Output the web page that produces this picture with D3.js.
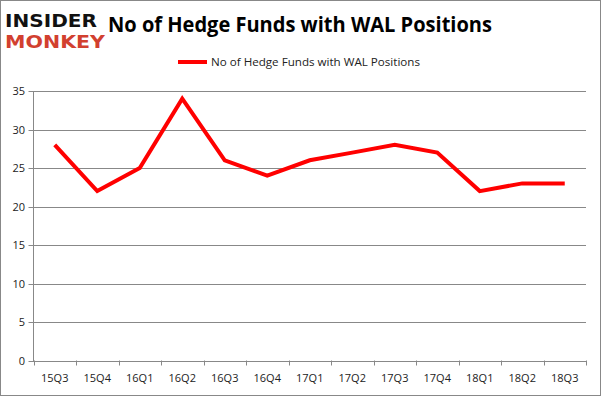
<!DOCTYPE html>
<html><head><meta charset="utf-8">
<script src="https://cdn.jsdelivr.net/npm/d3@7"></script>
<style>body{margin:0;background:#fff}svg{display:block}</style>
</head><body>
<script>
const categories = ["15Q3","15Q4","16Q1","16Q2","16Q3","16Q4","17Q1","17Q2","17Q3","17Q4","18Q1","18Q2","18Q3"];
const values = [28,22,25,34,26,24,26,27,28,27,22,23,23];
const yTicks = [0,5,10,15,20,25,30,35];
const seriesName = "No of Hedge Funds with WAL Positions";
const titleText = "No of Hedge Funds with WAL Positions";

(function(){
const W = 601, H = 396;
const svg = d3.select("body").append("svg").attr("width", W).attr("height", H);
svg.append("rect").attr("x",0.5).attr("y",0.5).attr("width",W-1).attr("height",H-1)
  .attr("fill","#fff").attr("stroke","#888").attr("stroke-width",1);

const pl = 33.5, pr = 586, pt = 91, pb = 360.5;
const x = d3.scaleBand().domain(categories).range([pl, pr]);
const y = d3.scaleLinear().domain([0,35]).range([pb, pt]);

svg.append("g").selectAll("line").data(yTicks).join("line")
  .attr("x1", pl-5).attr("x2", pr).attr("y1", d=>Math.round(y(d))+0.5).attr("y2", d=>Math.round(y(d))+0.5)
  .attr("stroke","#888").attr("stroke-width",1);

svg.append("line").attr("x1",pl).attr("x2",pl).attr("y1",pt).attr("y2",pb+0.5)
  .attr("stroke","#888");
svg.append("g").selectAll("text").data(yTicks).join("text")
  .attr("x", 25).attr("y", d=>y(d)+4).attr("text-anchor","end")
  .attr("font-family","'Open Sans', sans-serif").attr("font-size",11).attr("fill","#222")
  .text(d=>d);

const xt = categories.map(c=>x(c)).concat([pr]);
svg.append("g").selectAll("line").data(xt).join("line")
  .attr("x1", d=>Math.round(d)+0.5).attr("x2", d=>Math.round(d)+0.5)
  .attr("y1", pb).attr("y2", pb+5).attr("stroke","#888");
svg.append("g").selectAll("text").data(categories).join("text")
  .attr("x", d=>x(d)+x.bandwidth()/2).attr("y", 382).attr("text-anchor","middle")
  .attr("font-family","'Open Sans', sans-serif").attr("font-size",11).attr("fill","#222")
  .text(d=>d);

const line = d3.line().x((d,i)=>x(categories[i])+x.bandwidth()/2).y(d=>y(d));
svg.append("path").datum(values).attr("d", line).attr("fill","none")
  .attr("stroke","#ff0000").attr("stroke-width",4).attr("stroke-linejoin","miter");

svg.append("text").attr("x", 300).attr("y", 32).attr("text-anchor","middle")
  .attr("font-family","'Open Sans', sans-serif").attr("font-weight","bold").attr("font-size",21)
  .attr("textLength",384).attr("lengthAdjust","spacingAndGlyphs")
  .attr("fill","#000").text(titleText);

svg.append("line").attr("x1",178).attr("x2",207).attr("y1",62).attr("y2",62)
  .attr("stroke","#ff0000").attr("stroke-width",4);
svg.append("text").attr("x",211).attr("y",66)
  .attr("font-family","'Open Sans', sans-serif").attr("font-size",11.5).attr("fill","#222")
  .attr("textLength",209).attr("lengthAdjust","spacingAndGlyphs")
  .text(seriesName);

svg.append("text").attr("x",5).attr("y",27)
  .attr("font-family","'DejaVu Sans', sans-serif").attr("font-weight","bold").attr("font-size",18)
  .attr("textLength",92).attr("lengthAdjust","spacingAndGlyphs").attr("fill","#111").text("INSIDER");
svg.append("text").attr("x",5).attr("y",48)
  .attr("font-family","'DejaVu Sans', sans-serif").attr("font-weight","bold").attr("font-size",18)
  .attr("textLength",100).attr("lengthAdjust","spacingAndGlyphs").attr("fill","#d2402f").text("MONKEY");
})();
</script>
</body></html>
